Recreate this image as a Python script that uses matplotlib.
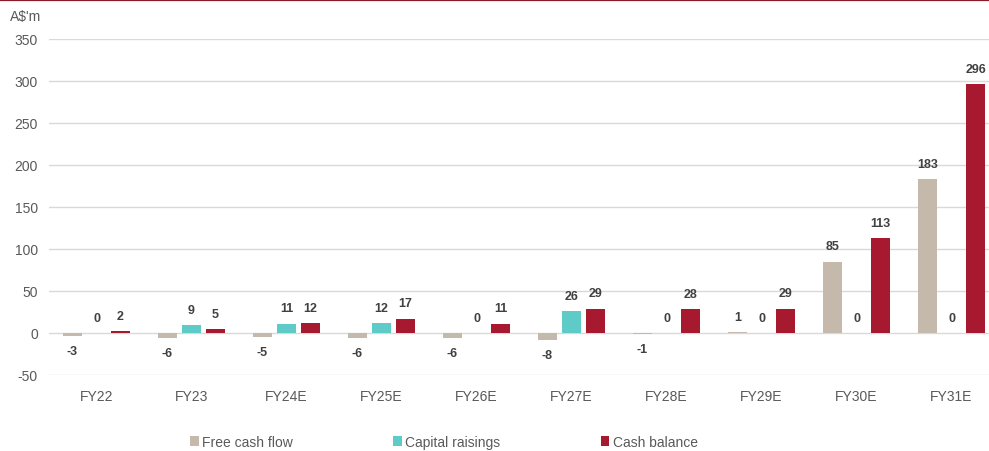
import matplotlib
matplotlib.use("Agg")
import matplotlib.pyplot as plt
import numpy as np
from matplotlib.patches import Patch
from matplotlib.lines import Line2D

plt.rcParams["axes.unicode_minus"] = False

categories = ["FY22", "FY23", "FY24E", "FY25E", "FY26E", "FY27E", "FY28E", "FY29E", "FY30E", "FY31E"]
free_cash_flow = [-3, -6, -5, -6, -6, -8, -1, 1, 85, 183]
capital_raisings = [0, 9, 11, 12, 0, 26, 0, 0, 0, 0]
cash_balance = [2, 5, 12, 17, 11, 29, 28, 29, 113, 296]
series_names = ["Free cash flow", "Capital raisings", "Cash balance"]
yticks = [-50, 0, 50, 100, 150, 200, 250, 300, 350]

colors = ["#c4b9ab", "#5ecbc8", "#a6192e"]
W, H = 989, 452
fig = plt.figure(figsize=(W / 100, H / 100), dpi=100)
ax = fig.add_axes([49 / W, (H - 376) / H, 950 / W, 336 / H])

x = np.arange(len(categories))
width = 0.196
offset = 0.253
series = [free_cash_flow, capital_raisings, cash_balance]
for i, (vals, col) in enumerate(zip(series, colors)):
    pos = x + (i - 1) * offset
    ax.bar(pos, vals, width=width, color=col, zorder=3)
    for px, v in zip(pos, vals):
        dy = -11 if v < 0 else 11
        ax.annotate(f"{v}", (px, v), xytext=(0, dy), textcoords="offset points",
                    ha="center", va="center", fontsize=9, fontweight="bold",
                    color="#404040", family="Liberation Sans")

ax.set_xlim(-0.5, len(categories) - 0.5)
ax.set_ylim(-50, 350)
ax.set_yticks(yticks)
ax.set_xticks(x)
ax.set_xticklabels(categories)
ax.grid(axis="y", color="#d9d9d9", linewidth=1, zorder=0)
for s in ax.spines.values():
    s.set_visible(False)
ax.tick_params(length=0, labelsize=10, labelcolor="#595959", pad=8)
for lab in ax.get_xticklabels() + ax.get_yticklabels():
    lab.set_family("Liberation Sans")
ax.tick_params(axis="x", pad=10)

fig.text(10 / W, 1 - 17 / H, "A$'m", fontsize=10, color="#595959",
         family="Liberation Sans", va="center", ha="left")

# top rule
fig.add_artist(Line2D([0, 1], [1 - 0.8 / H, 1 - 0.8 / H], color="#8b1a2b",
                      linewidth=1.6, transform=fig.transFigure))

handles = [Patch(facecolor=c, edgecolor="none") for c in colors]
fig.legend(handles, series_names, loc="center", bbox_to_anchor=(0.449, 1 - 443 / H),
           ncol=3, frameon=False, handlelength=0.6, handleheight=0.7,
           handletextpad=0.25, columnspacing=7.25,
           prop={"family": "Liberation Sans", "size": 10}, labelcolor="#595959")

fig.savefig("out.png", dpi=100)
